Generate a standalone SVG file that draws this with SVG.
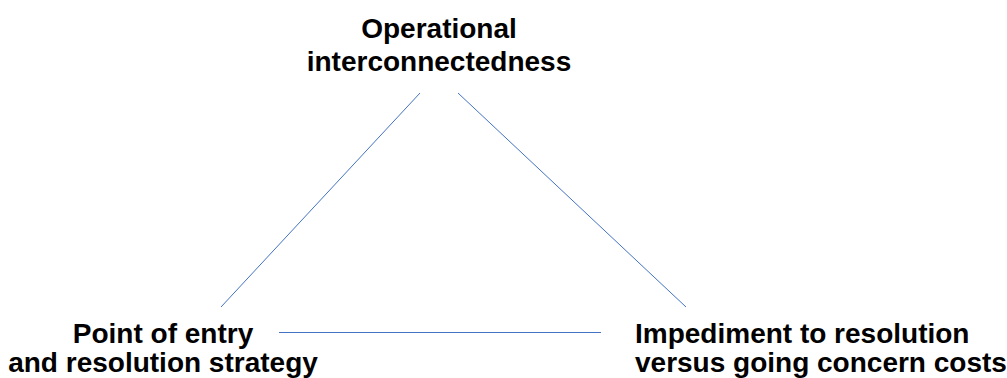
<svg xmlns="http://www.w3.org/2000/svg" width="1007" height="378" viewBox="0 0 1007 378">
<style>
.t{font-family:"Liberation Sans",Arial,sans-serif;font-weight:bold;font-size:28px;fill:#000}
.c{stroke:#4472C4;stroke-width:1;fill:none}
</style>
<rect width="1007" height="378" fill="#fff"/>
<g id="connectors">
<line class="c" x1="420" y1="93" x2="221" y2="307"/>
<line class="c" x1="458" y1="93" x2="686" y2="307"/>
<line class="c" x1="279" y1="332.5" x2="601" y2="332.5"/>
</g>
<g id="node-top">
<text class="t" x="439" y="37.5" text-anchor="middle">Operational</text>
<text class="t" x="439" y="71" text-anchor="middle">interconnectedness</text>
</g>
<g id="node-left">
<text class="t" x="163" y="343" text-anchor="middle">Point of entry</text>
<text class="t" x="163" y="372" text-anchor="middle">and resolution strategy</text>
</g>
<g id="node-right">
<text class="t" x="635" y="343">Impediment to resolution</text>
<text class="t" x="635" y="372">versus going concern costs</text>
</g>
</svg>
